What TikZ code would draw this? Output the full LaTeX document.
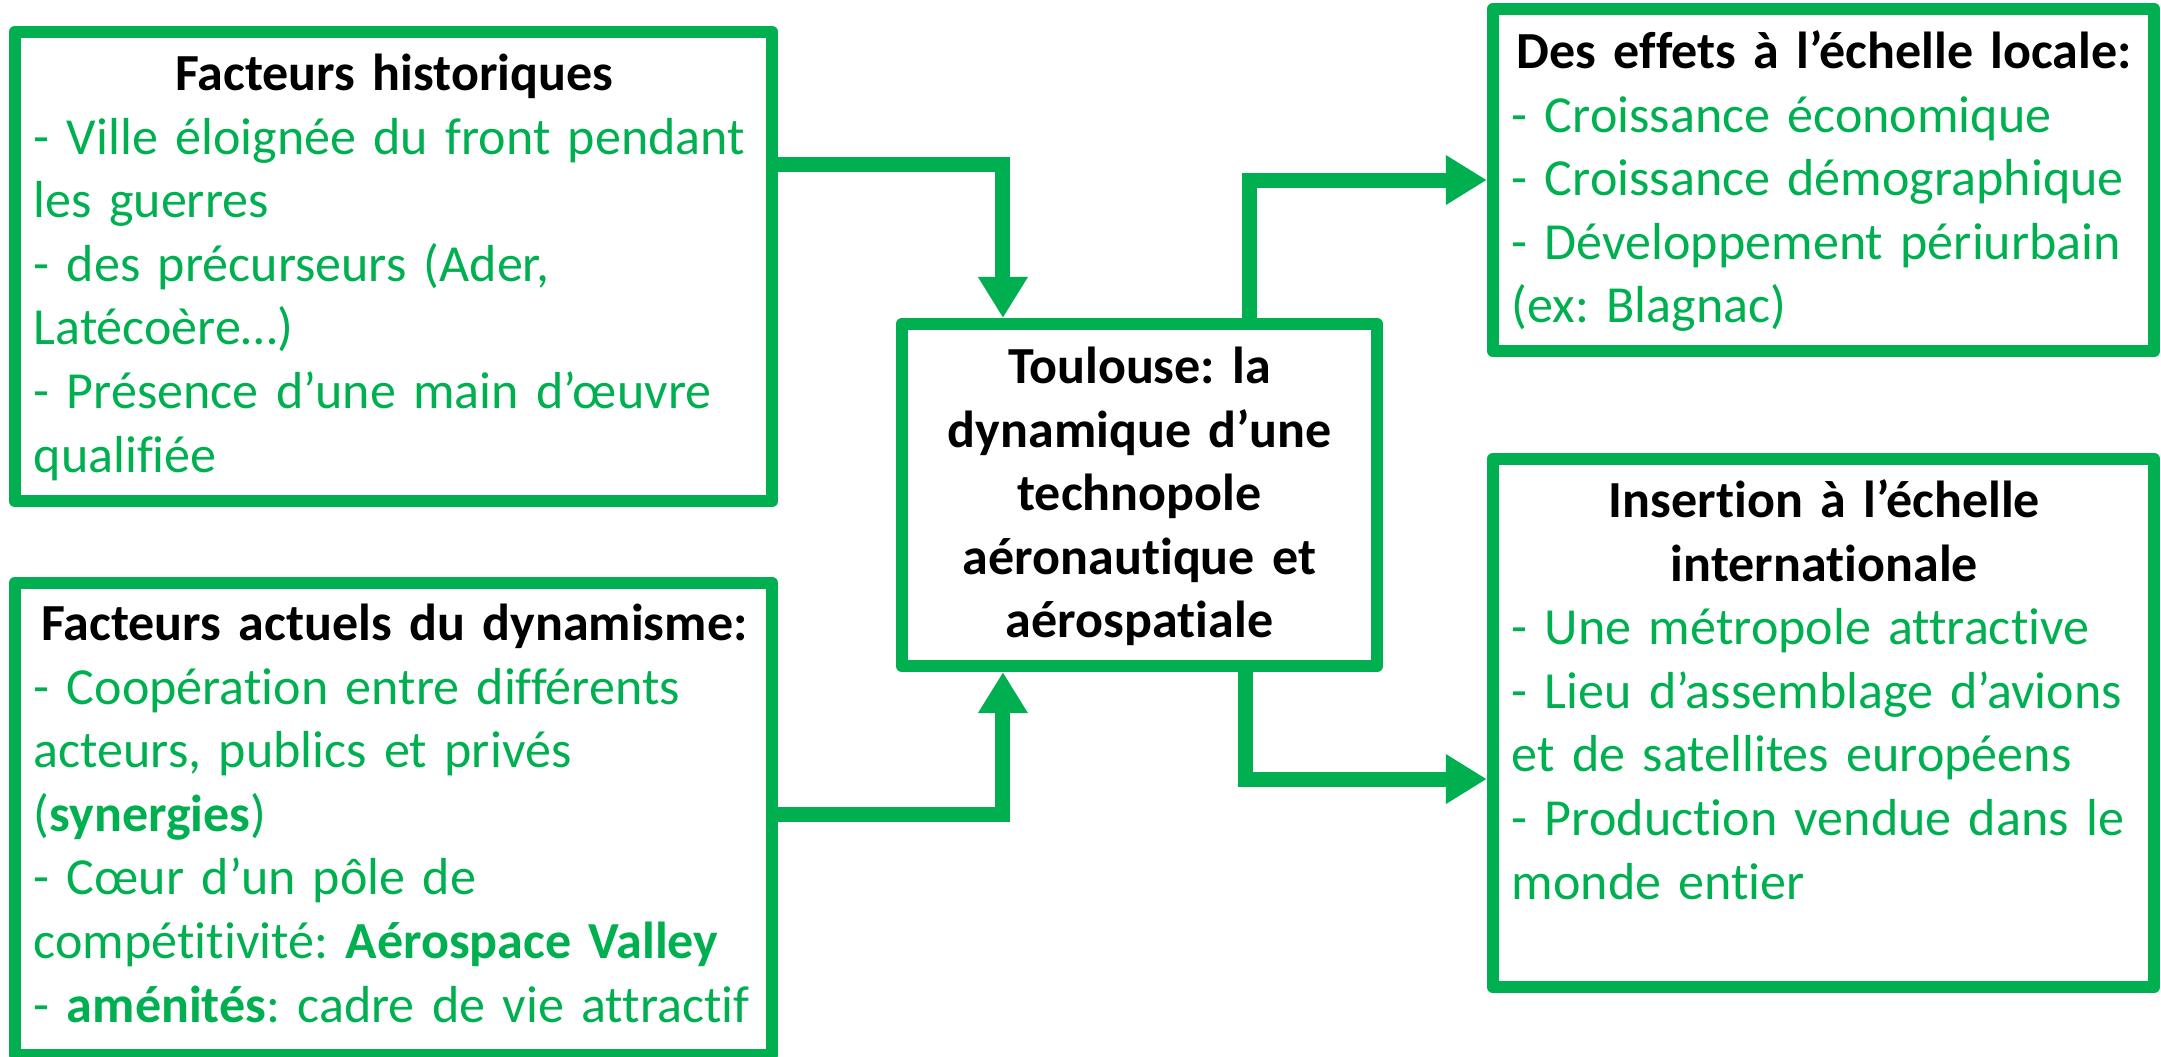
\documentclass[tikz,border=0pt]{standalone}
\usepackage{fontspec}
\setmainfont{Carlito}[Ligatures=NoCommon]
\frenchspacing
\usetikzlibrary{arrows.meta}
\definecolor{vert}{HTML}{00B050}

\begin{document}
\begin{tikzpicture}[x=0.01cm,y=-0.01cm,
  cadre/.style={draw=vert,line width=0.12cm,line join=round,inner sep=0pt},
  texte/.style={inner sep=0pt,anchor=north west,text width=#1,align=left,
    font=\fontsize{14.8pt}{18.07pt}\selectfont},
  fleche/.style={draw=vert,line width=0.15cm,-{Triangle[length=0.41cm,width=0.47cm]}}]
  \useasboundingbox (0,0) rectangle (2161,1056);

  \node[cadre,minimum width=7.57cm,minimum height=4.69cm] (hist) at (393.5,266.5) {};
  \node[cadre,minimum width=7.57cm,minimum height=4.72cm] (actuel) at (393.5,819) {};
  \node[cadre,minimum width=4.75cm,minimum height=3.42cm] (centre) at (1139.5,495) {};
  \node[cadre,minimum width=6.61cm,minimum height=3.42cm] (local) at (1823.5,180) {};
  \node[cadre,minimum width=6.61cm,minimum height=5.28cm] (inter) at (1823.5,723) {};

  \node[texte=7.21cm] (hist-txt) at (33,40) {%
    {\centering\bfseries\rule{0pt}{0.5cm}Facteurs historiques\par}
    \color{vert}- Ville éloignée du front pendant\\
    les guerres\\
    - des précurseurs (Ader,\\
    Latécoère…)\\
    - Présence d’une main d’œuvre\\
    qualifiée};
  \node[texte=7.21cm] (actuel-txt) at (33,590) {%
    {\centering\bfseries\rule{0pt}{0.5cm}Facteurs actuels du dynamisme:\par}
    \color{vert}- Coopération entre différents\\
    acteurs, publics et privés\\
    (\textbf{synergies})\\
    - Cœur d’un pôle de\\
    compétitivité: \textbf{Aérospace Valley}\\
    - \textbf{aménités}: cadre de vie attractif};
  \node[texte=4.6cm,anchor=north,align=center,font=\fontsize{14.8pt}{18.07pt}\selectfont\bfseries]
    (centre-txt) at (1139.5,333) {%
    \rule{0pt}{0.5cm}Toulouse: la\\
    dynamique d’une\\
    technopole\\
    aéronautique et\\
    aérospatiale};
  \node[texte=6.25cm] (local-txt) at (1511,18) {%
    {\centering\bfseries\rule{0pt}{0.5cm}Des effets à l’échelle locale:\par}
    \color{vert}- Croissance économique\\
    - Croissance démographique\\
    - Développement périurbain\\
    (ex: Blagnac)};
  \node[texte=6.25cm] (inter-txt) at (1511,467) {%
    {\centering\bfseries\rule{0pt}{0.5cm}Insertion à l’échelle\\ internationale\par}
    \color{vert}- Une métropole attractive\\
    - Lieu d’assemblage d’avions\\
    et de satellites européens\\
    - Production vendue dans le\\
    monde entier};

  \draw[fleche] ([yshift=1.015cm]hist.east) -| ([xshift=1.07cm]centre.north west);
  \draw[fleche] ([yshift=0.05cm]actuel.east) -| ([xshift=1.07cm]centre.south west);
  \draw[fleche] ([xshift=3.53cm]centre.north west) |- (local.west);
  \draw[fleche] ([xshift=3.49cm]centre.south west) |- ([yshift=-0.56cm]inter.west);
\end{tikzpicture}
\end{document}
